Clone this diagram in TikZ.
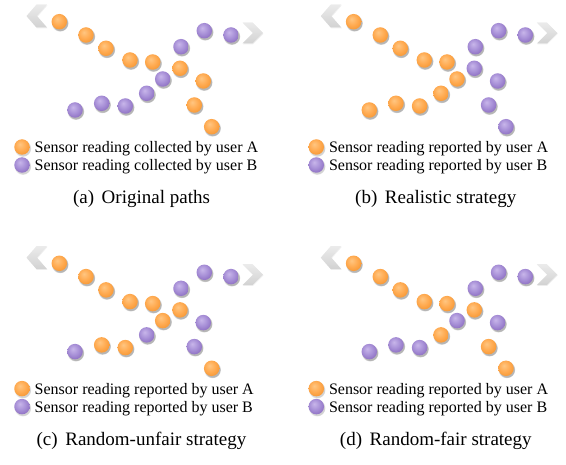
\documentclass[tikz,border=0pt]{standalone}
\usepackage{fontspec}
\setmainfont{Liberation Serif}
\usetikzlibrary{shadows}

\definecolor{oraHi}{HTML}{FFC682}
\definecolor{oraMid}{HTML}{FFAA50}
\definecolor{oraLo}{HTML}{F39430}
\definecolor{purHi}{HTML}{C8B6EA}
\definecolor{purMid}{HTML}{A68ED6}
\definecolor{purLo}{HTML}{8868BD}
\definecolor{chevTop}{HTML}{EBEBEB}
\definecolor{chevBot}{HTML}{D2D2D2}

\pgfdeclareradialshading{orangeball}{\pgfpoint{-7bp}{9bp}}{color(0bp)=(oraHi); color(18bp)=(oraMid); color(34bp)=(oraLo); color(60bp)=(oraLo)}
\pgfdeclareradialshading{purpleball}{\pgfpoint{-7bp}{9bp}}{color(0bp)=(purHi); color(18bp)=(purMid); color(34bp)=(purLo); color(60bp)=(purLo)}

\tikzset{
  dotbase/.style={circle, minimum size=15.5pt, inner sep=0pt, draw=none,
    circular drop shadow={shadow xshift=0.7pt, shadow yshift=-1.3pt, shadow scale=1.1, opacity=0.35}},
  dotA/.style={dotbase, shading=orangeball},
  dotB/.style={dotbase, shading=purpleball},
  legtxt/.style={anchor=base west, inner sep=0pt, font=\fontsize{16}{18}\selectfont},
  captxt/.style={anchor=base, inner sep=0pt, font=\fontsize{19}{22}\selectfont},
  chevron/.style={top color=chevTop, bottom color=chevBot, draw=none,
    drop shadow={shadow xshift=0.5pt, shadow yshift=-0.8pt, opacity=0.12}},
}

% reading positions shared by all four panels
\def\px{{59.3,86,106,130,152.7,180,203.3,194.3,211.7,204.3,231,181,162.7,146.7,125.3,101.7,75}}
\def\py{{21.7,35,48.3,60,62,68.3,81,105,126.7,30.7,35,46.7,79,93.3,106,103.3,110}}

\begin{document}
\begin{tikzpicture}[x=1pt, y=-1pt]
\useasboundingbox (0,0) rectangle (566,465);
\foreach \pan/\dx/\dy/\cols/\act/\captext in {
  a/0/0/{A,A,A,A,A,A,A,A,A,B,B,B,B,B,B,B,B}/collected/{(a)\hspace{0.4em}Original paths},
  b/294.3/0/{A,A,A,A,A,B,B,B,B,B,B,B,A,A,A,A,A}/reported/{(b)\hspace{0.4em}Realistic strategy},
  c/0/241.6/{A,A,A,A,A,A,B,B,A,B,B,B,A,B,A,A,B}/reported/{(c)\hspace{0.4em}Random-unfair strategy},
  d/294.3/241.6/{A,A,A,A,A,A,B,A,A,B,B,B,B,A,B,B,B}/reported/{(d)\hspace{0.4em}Random-fair strategy}}{
  \begin{scope}[shift={(\dx,\dy)}]
    % direction markers at both ends of the paths
    \shade[chevron] (26.5,16) -- (36.5,4.5) -- (47,4.5) -- (37,16) -- (47,27.5) -- (36.5,27.5) -- cycle;
    \shade[chevron] (242.5,22.5) -- (252.5,22.5) -- (263,33) -- (252.5,43.5) -- (242.5,43.5) -- (253,33) -- cycle;
    % sensor readings
    \foreach \c [count=\i from 0] in \cols {
      \pgfmathsetmacro\xx{\px[\i]}
      \pgfmathsetmacro\yy{\py[\i]}
      \node[dotA, dot\c] (\pan-\i) at (\xx,\yy) {};
    }
    % legend
    \node[dotA] (\pan-legA) at (22,147) {};
    \node[legtxt] (\pan-txtA) at (34.5,152.5) {Sensor reading \act\ by user A};
    \node[dotB] (\pan-legB) at (22,165) {};
    \node[legtxt] (\pan-txtB) at (34.5,170.5) {Sensor reading \act\ by user B};
    % sub-caption
    \node[captxt] (\pan-cap) at (141.5,203.5) {\captext};
  \end{scope}
}
\end{tikzpicture}
\end{document}
